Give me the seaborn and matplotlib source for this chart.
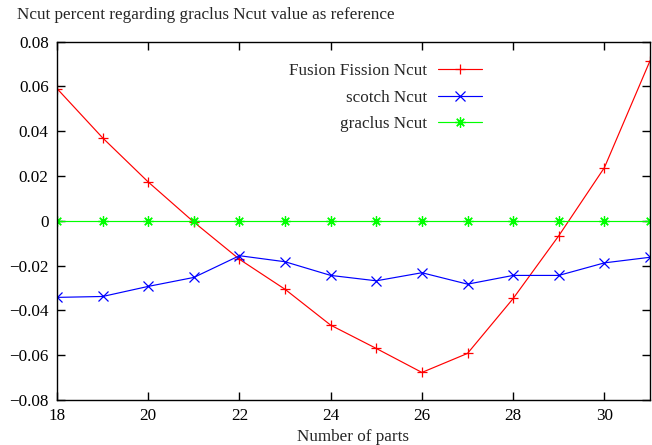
import matplotlib
matplotlib.use("Agg")
import matplotlib.pyplot as plt
import matplotlib.ticker as mticker
from matplotlib.lines import Line2D
import numpy as np
import pandas as pd
import seaborn as sns

# ---- data ----
parts = list(range(18, 32))
fusion = [0.059, 0.037, 0.0173, -0.0006, -0.0172, -0.0306, -0.0466, -0.057,
          -0.0677, -0.0592, -0.0347, -0.0067, 0.0237, 0.0714]
scotch = [-0.0342, -0.0338, -0.0293, -0.0253, -0.0156, -0.0183, -0.0244, -0.0268,
          -0.0232, -0.0283, -0.0244, -0.0244, -0.0188, -0.0163]
graclus = [0.0] * 14
series_names = ["Fusion Fission Ncut", "scotch Ncut", "graclus Ncut"]
series_colors = ["#ff0000", "#0000ff", "#00ff00"]
series_markers = ["+", "x", (8, 2, 0)]
xtick_values = [18, 20, 22, 24, 26, 28, 30]
ytick_values = [-0.08, -0.06, -0.04, -0.02, 0, 0.02, 0.04, 0.06, 0.08]
title_text = "Ncut percent regarding graclus Ncut value as reference"
xlabel_text = "Number of parts"

df = pd.concat([
    pd.DataFrame({"parts": parts, "value": vals, "series": name})
    for name, vals in zip(series_names, [fusion, scotch, graclus])
])

sns.set_theme(style="ticks")
plt.rcParams["font.family"] = ["Liberation Serif", "DejaVu Serif"]
plt.rcParams["axes.unicode_minus"] = True

FS = 12.3
MS = 7.5
W, H = 652, 445
fig = plt.figure(figsize=(W / 100, H / 100), dpi=100)
L, R, T, B = 57, 650, 41.5, 400
ax = fig.add_axes([L / W, 1 - B / H, (R - L) / W, (B - T) / H])

sns.lineplot(data=df, x="parts", y="value", hue="series", hue_order=series_names,
             palette=series_colors, style="series", style_order=series_names,
             markers=series_markers, dashes=False, markersize=MS, linewidth=0.85,
             legend=False, ax=ax, sort=False)
for line in ax.lines:
    line.set_markeredgecolor(line.get_color())
    line.set_markeredgewidth(0.9)

ax.set_xlim(18, 31)
ax.set_ylim(-0.08, 0.08)
ax.set_xticks(xtick_values)
ax.set_yticks(ytick_values)
ax.yaxis.set_major_formatter(mticker.FuncFormatter(
    lambda v, p: "0" if abs(v) < 1e-12 else f"{v:.2f}".replace("-", "\u2212")))
ax.tick_params(direction="in", length=6, width=1, colors="black",
               labelsize=FS, top=True, right=True, pad=6)
for s in ax.spines.values():
    s.set_visible(True)
    s.set_color("black")
    s.set_linewidth(1.0)
ax.set_xlabel("")
ax.set_ylabel("")
ax.grid(False)

fig.text(17 / W, 1 - 15 / H, title_text, fontsize=FS, ha="left", va="center")
fig.text(353 / W, 1 - 437 / H, xlabel_text, fontsize=FS, ha="center", va="center")

handles = [Line2D([], [], color=c, marker=m, markersize=MS, markeredgewidth=0.9, lw=0.85)
           for c, m in zip(series_colors, series_markers)]
leg = ax.legend(handles, series_names, loc="upper right",
                bbox_to_anchor=(482 / W, 1 - 63 / H), bbox_transform=fig.transFigure,
                markerfirst=False, frameon=False, handlelength=2.6,
                handletextpad=0.6, labelspacing=0.62, borderpad=0, borderaxespad=0,
                fontsize=FS)
for col in leg._legend_handle_box.get_children():
    col.align = "right"

fig.savefig("out.png", dpi=100)
